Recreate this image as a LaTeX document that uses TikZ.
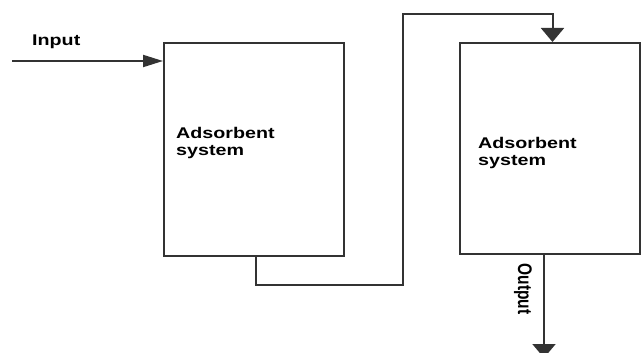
\documentclass[tikz,border=0pt]{standalone}
\usepackage{fontspec}
\setmainfont{Liberation Sans}
\usetikzlibrary{arrows.meta}
\begin{document}
\begin{tikzpicture}[x=1pt,y=-1pt,
  line/.style={draw=black!80,line width=2pt},
  box/.style={line,rectangle,inner sep=0pt,anchor=north west},
  lbl/.style={inner sep=0pt,font=\fontsize{15.5}{17}\selectfont\bfseries,align=left},
  harrow/.style={-{Triangle[length=20pt,width=12pt]}},
  varrow/.style={-{Triangle[length=14pt,width=23pt]}}]
\useasboundingbox (0,0) rectangle (641,353);
\clip (0,0) rectangle (641,353);
\node[box,minimum width=180pt,minimum height=213pt] (b1) at (163,42) {};
\node[box,minimum width=180pt,minimum height=211pt] (b2) at (459,42) {};
\node[lbl,anchor=north west] (t1) at (176,127) {\scalebox{1.27}[1]{Adsorbent}\\\scalebox{1.27}[1]{system}};
\node[lbl,anchor=north west] (t2) at (478,137) {\scalebox{1.27}[1]{Adsorbent}\\\scalebox{1.27}[1]{system}};
\node[lbl,anchor=north west] (tin) at (32,35) {\scalebox{1.27}[1]{Input}};
\node[lbl,rotate=-90] (tout) at (523,289) {\scalebox{1}[1.27]{Output}};
\coordinate (in) at (12,61);
\coordinate (out) at (544,358);
\draw[line,harrow] (in) -- (in -| b1.west);
\draw[line,varrow] ([xshift=1.5pt]b1.south) -- ++(0,28) -| (403,14) -| ([xshift=2.5pt]b2.north);
\draw[line,varrow] (b2.south -| out) -- (out);
\end{tikzpicture}
\end{document}
